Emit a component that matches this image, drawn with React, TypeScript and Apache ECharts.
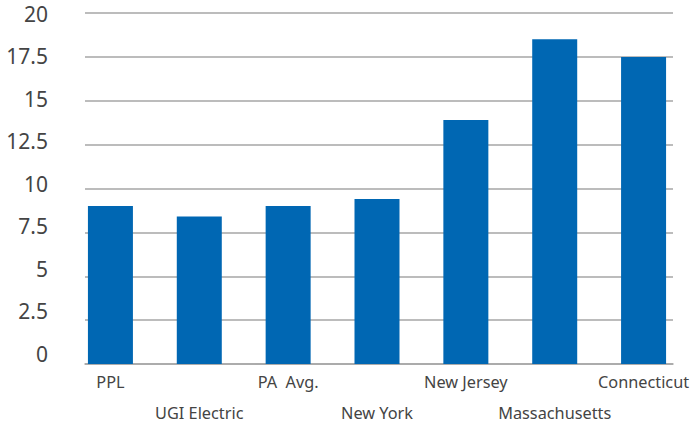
import React, { useEffect, useRef } from "react";
import * as echarts from "echarts";

const categories = ["PPL", "UGI Electric", "PA  Avg.", "New York", "New Jersey", "Massachusetts", "Connecticut"];
const values = [9.0, 8.4, 9.0, 9.4, 13.9, 18.5, 17.5];
const yMin = 0;
const yMax = 20;
const yInterval = 2.5;

export default function App() {
  const ref = useRef<HTMLDivElement>(null);
  useEffect(() => {
    if (!ref.current) return;
    const chart = echarts.init(ref.current, undefined, { renderer: "svg" });
    const font = "'Noto Sans', sans-serif";
    chart.setOption({
      animation: false,
      backgroundColor: "#ffffff",
      grid: [
        { left: 85, right: 25, top: 13, bottom: 58, containLabel: false, outerBoundsMode: "none" },
        { left: 66, right: 10, top: 13, bottom: 58, containLabel: false, outerBoundsMode: "none" },
        { left: 85, right: 25, top: 13.5, bottom: 68.5, containLabel: false, outerBoundsMode: "none" },
      ],
      xAxis: [
        {
          type: "category",
          gridIndex: 0,
          data: categories,
          axisLine: { show: true, lineStyle: { color: "#a6a6a6", width: 1.5 } },
          axisTick: { show: false },
          axisLabel: { show: false },
        },
        {
          type: "category",
          gridIndex: 1,
          data: categories,
          axisLine: { show: false },
          axisTick: { show: false },
          axisLabel: {
            interval: 0,
            margin: 2,
            color: "#444444",
            fontFamily: font,
            fontSize: 16.3,
            lineHeight: 31,
            hideOverlap: false,
            formatter: (v: string, i: number) => (i % 2 === 1 ? "\n" + v : v),
          },
        },
        {
          type: "category",
          gridIndex: 2,
          data: categories,
          show: false,
        },
      ],
      yAxis: [
        {
          type: "value",
          gridIndex: 0,
          min: yMin,
          max: yMax,
          interval: yInterval,
          axisLine: { show: false },
          axisTick: { show: false },
          axisLabel: { show: false },
          splitLine: { show: true, lineStyle: { color: "#a6a6a6", width: 1.5 } },
        },
        {
          type: "value",
          gridIndex: 1,
          min: yMin,
          max: yMax,
          interval: yInterval,
          show: false,
          splitLine: { show: false },
        },
        {
          type: "value",
          gridIndex: 2,
          min: yMin,
          max: yMax,
          interval: yInterval,
          axisLine: { show: false },
          axisTick: { show: false },
          splitLine: { show: false },
          axisLabel: { margin: 37, color: "#444444", fontFamily: font, fontSize: 21 },
        },
      ],
      series: [
        {
          type: "bar",
          xAxisIndex: 1,
          yAxisIndex: 1,
          data: values,
          barWidth: 45,
          itemStyle: { color: "#0067b3" },
        },
      ],
    });
    return () => chart.dispose();
  }, []);
  return <div ref={ref} style={{ position: "fixed", left: 0, top: 0, width: 698, height: 422 }} />;
}
